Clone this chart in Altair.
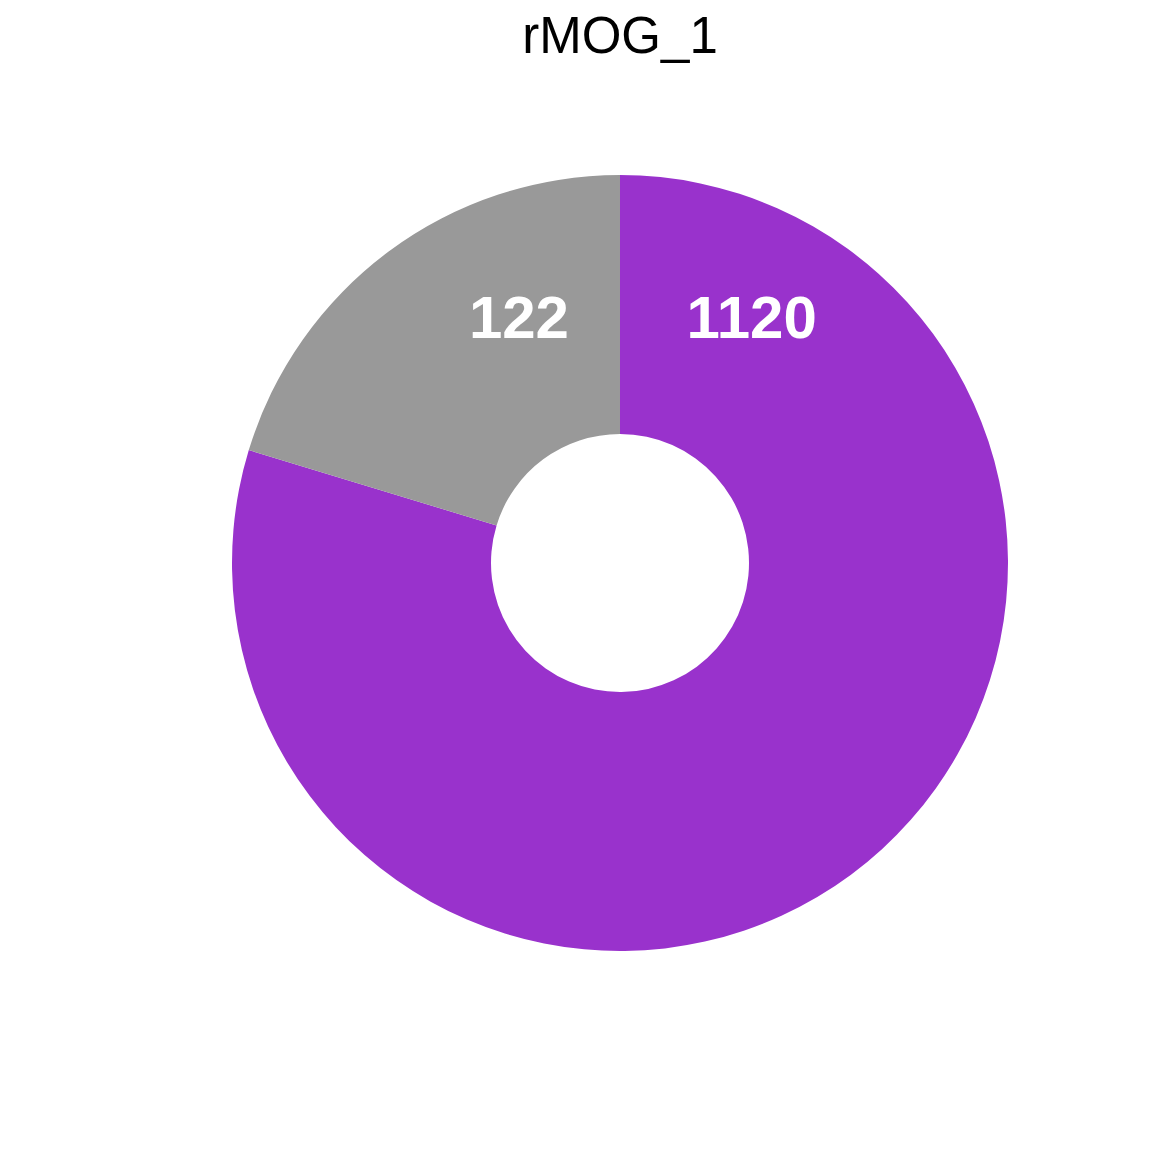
import math
import altair as alt
import pandas as pd

# ---- data ----
categories = ["group_1120", "group_122"]
counts = [1120, 122]                 # numbers printed on the slices
slice_share = [79.7, 20.3]           # angular share of each slice (%)
colors = ["#9932CC", "#999999"]
slice_order = [1, 2]

# label placement (polar): angle in degrees clockwise from 12 o'clock, radius in px
label_angle = [28.5, 337.4]
label_radius = [276, 263]

df = pd.DataFrame({
    "cat": categories,
    "count": counts,
    "share": slice_share,
    "ord": slice_order,
    "lab_angle": label_angle,
    "lab_r": label_radius,
})

color_scale = alt.Scale(domain=categories, range=colors)

arcs = alt.Chart(df).mark_arc(outerRadius=388, innerRadius=129, stroke=None).encode(
    theta=alt.Theta("share:Q", stack=True),
    order=alt.Order("ord:Q"),
    color=alt.Color("cat:N", scale=color_scale, legend=None),
)

labels = alt.Chart(df).mark_text(
    font="Liberation Sans", fontSize=60, fontWeight="bold", color="white",
    align="center", baseline="middle",
).encode(
    theta=alt.Theta("lab_angle:Q", stack=None,
                    scale=alt.Scale(domain=[0, 360], range=[0, 2 * math.pi])),
    radius=alt.Radius("lab_r:Q", scale=alt.Scale(type="linear", domain=[0, 500], range=[0, 500], zero=True)),
    text=alt.Text("count:Q"),
)

chart = alt.layer(arcs, labels).resolve_scale(theta="independent", radius="independent").properties(
    width=1048,
    height=1000,
    padding={"left": 88, "top": 55, "right": 0, "bottom": 0},
    autosize=alt.AutoSizeParams(type="none"),
    title=alt.TitleParams(
        "rMOG_1", font="Liberation Sans", fontSize=51, fontWeight="normal",
        color="black", anchor="middle", offset=-1,
    ),
).configure_view(stroke=None)

chart.save("out.html", embed_options={"renderer": "svg", "actions": False})
